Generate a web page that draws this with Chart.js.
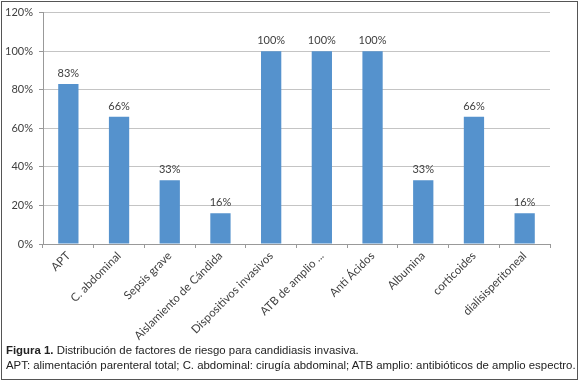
<!DOCTYPE html>
<html lang="es">
<head>
<meta charset="UTF-8">
<title>Figura 1</title>
<style>
  body { margin: 0; background: #fff; }
  #frame {
    position: absolute; left: 1px; top: 1px; width: 577px; height: 379px;
    box-sizing: border-box; border: 1px solid #555;
  }
  #wrap { position: absolute; left: 0; top: 0; width: 580px; height: 345px; }
  #caption {
    position: absolute; left: 6px; top: 343px; width: 572px;
    font-family: "Liberation Sans", Arial, sans-serif; font-size: 11.4px;
    line-height: 15px; color: #222; white-space: nowrap;
  }
</style>
</head>
<body>
<div id="frame"></div>
<div id="wrap"><canvas id="chart"></canvas></div>
<div id="caption">
  <b>Figura 1.</b> Distribución de factores de riesgo para candidiasis invasiva.<br>
  APT: alimentación parenteral total; C. abdominal: cirugía abdominal; ATB amplio: antibióticos de amplio espectro.
</div>

<script src="https://cdn.jsdelivr.net/npm/chart.js@4.4.1/dist/chart.umd.min.js"></script>
<script>
    const categories = ["APT", "C. abdominal", "Sepsis grave", "Aislamiento de Cándida",
        "Dispositivos invasivos", "ATB de amplio ...", "Anti Ácidos", "Albumina",
        "corticoides", "dialisisperitoneal"];
    const values = [83, 66, 33, 16, 100, 100, 100, 33, 66, 16];
    const yTicks = [0, 20, 40, 60, 80, 100, 120];

    const textColor = "#404040";
    const fontFamily = "Lato, 'Open Sans', sans-serif";

    // draws the "83%" labels on top of each bar
    const barLabels = {
        id: "barLabels",
        afterDatasetsDraw(chart) {
            const ctx = chart.ctx;
            ctx.save();
            ctx.font = "11px " + fontFamily;
            ctx.fillStyle = textColor;
            ctx.textAlign = "center";
            ctx.textBaseline = "bottom";
            chart.getDatasetMeta(0).data.forEach(function (bar, i) {
                ctx.fillText(values[i] + "%", bar.x, bar.y - 5);
            });
            ctx.restore();
        }
    };

    const ctx = document.getElementById("chart").getContext("2d");
    new Chart(ctx, {
        type: "bar",
        data: {
            labels: categories,
            datasets: [{
                data: values,
                backgroundColor: "#5592cd",
                barPercentage: 0.4,
                categoryPercentage: 1
            }]
        },
        options: {
            responsive: true,
            maintainAspectRatio: false,
            animation: false,
            layout: { padding: { top: 11, right: 30, left: 0, bottom: 0 } },
            plugins: { legend: { display: false }, tooltip: { enabled: false } },
            scales: {
                x: {
                    afterFit: function (scale) { scale.height = 101; },
                    grid: { drawOnChartArea: false, drawTicks: true, tickLength: 4, tickColor: "#999" },
                    border: { color: "#999" },
                    ticks: {
                        color: textColor,
                        font: { family: fontFamily, size: 11.5 },
                        minRotation: 45, maxRotation: 45,
                        autoSkip: false, padding: 1
                    }
                },
                y: {
                    min: 0, max: 120,
                    afterFit: function (scale) { scale.width = 43; },
                    afterBuildTicks: function (scale) {
                        scale.ticks = yTicks.map(function (v) { return { value: v }; });
                    },
                    grid: { color: "#c4c4c4", tickLength: 4, tickColor: "#999" },
                    border: { color: "#999" },
                    ticks: {
                        color: textColor,
                        font: { family: fontFamily, size: 11 },
                        padding: 6,
                        callback: function (v) { return v + "%"; }
                    }
                }
            }
        },
        plugins: [barLabels]
    });
</script>
</body>
</html>
